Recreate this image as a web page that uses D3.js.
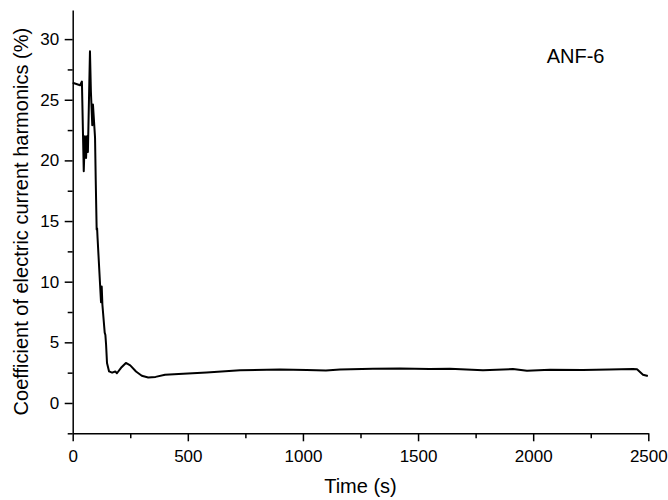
<!DOCTYPE html>
<html>
<head>
<meta charset="utf-8">
<script src="https://cdn.jsdelivr.net/npm/d3@7"></script>
<style>
  body { margin: 0; background: #fff; }
  text { font-family: "Liberation Sans", Arial, sans-serif; fill: #000; }
</style>
</head>
<body>
<script>
// time (s) and harmonic coefficient (%)
var times = [0, 32, 40, 48, 53, 58, 62, 66, 75, 79, 85, 88, 97, 100, 104, 106, 108,
  123, 126, 129, 139, 142, 145, 149, 158, 171, 185, 192, 210, 231, 250, 275, 300,
  328, 360, 401, 480, 582, 727, 900, 1016, 1100, 1161, 1304, 1421, 1550, 1638, 1782,
  1912, 1973, 2073, 2216, 2330, 2433, 2451, 2477, 2498];
var coeff = [26.4, 26.2, 26.5, 19.1, 22.0, 20.2, 22.0, 20.7, 29.0, 25.7, 22.9, 24.6, 21.9, 18.4, 14.3, 14.4, 13.6,
  8.3, 9.6, 8.1, 5.8, 5.6, 4.8, 3.3, 2.6, 2.5, 2.6, 2.45, 2.9, 3.3, 3.1, 2.6, 2.25,
  2.1, 2.15, 2.33, 2.4, 2.52, 2.69, 2.77, 2.72, 2.68, 2.77, 2.83, 2.85, 2.8, 2.83, 2.69,
  2.8, 2.66, 2.74, 2.72, 2.75, 2.8, 2.78, 2.33, 2.22];
var xMajor = [0, 500, 1000, 1500, 2000, 2500];
var xMinor = [250, 750, 1250, 1750, 2250];
var yMajor = [0, 5, 10, 15, 20, 25, 30];
var yMinor = [-2.5, 2.5, 7.5, 12.5, 17.5, 22.5, 27.5];

var width = 668, height = 500;
var mLeft = 72.7, mRight = 648.3, mTop = 10, mBottom = 433.3;

var data = times.map(function (t, i) { return {t: t, v: coeff[i]}; });

var x = d3.scaleLinear().domain([0, 2500]).range([mLeft, mRight]);
var y = d3.scaleLinear().domain([-2.5, 32.4]).range([mBottom, mTop]);

var svg = d3.select("body").append("svg")
    .attr("width", width)
    .attr("height", height);

// minor ticks first, no labels
svg.append("g")
    .attr("transform", "translate(0," + mBottom + ")")
    .call(d3.axisBottom(x).tickValues(xMinor).tickSize(5).tickSizeOuter(0).tickFormat(""))
    .call(function (g) { g.select(".domain").remove(); });
svg.append("g")
    .attr("transform", "translate(" + mLeft + ",0)")
    .call(d3.axisLeft(y).tickValues(yMinor).tickSize(5).tickSizeOuter(0).tickFormat(""))
    .call(function (g) { g.select(".domain").remove(); });

svg.append("g")
    .attr("transform", "translate(0," + mBottom + ")")
    .call(d3.axisBottom(x).tickValues(xMajor).tickSize(8).tickSizeOuter(0).tickPadding(8.4).tickFormat(d3.format("d")));
svg.append("g")
    .attr("transform", "translate(" + mLeft + ",0)")
    .call(d3.axisLeft(y).tickValues(yMajor).tickSize(8).tickSizeOuter(0).tickPadding(5.5).tickFormat(d3.format("d")));

svg.selectAll(".tick line, .domain")
    .attr("stroke", "#000")
    .attr("stroke-width", 1.5);
svg.selectAll(".tick text")
    .style("font-size", "17px")
    .style("font-family", "'Liberation Sans', Arial, sans-serif");

var line = d3.line()
    .x(function (d) { return x(d.t); })
    .y(function (d) { return y(d.v); });

svg.append("path")
    .datum(data)
    .attr("d", line)
    .attr("fill", "none")
    .attr("stroke", "#000")
    .attr("stroke-width", 2)
    .attr("stroke-linejoin", "round");

svg.append("text")
    .attr("x", (mLeft + mRight) / 2)
    .attr("y", 493)
    .attr("text-anchor", "middle")
    .style("font-size", "20px")
    .text("Time (s)");

svg.append("text")
    .attr("transform", "translate(28," + ((mTop + mBottom) / 2) + ") rotate(-90)")
    .attr("text-anchor", "middle")
    .style("font-size", "20px")
    .text("Coefficient of electric current harmonics (%)");

svg.append("text")
    .attr("x", 546.7)
    .attr("y", 63.3)
    .style("font-size", "20px")
    .text("ANF-6");
</script>
</body>
</html>
